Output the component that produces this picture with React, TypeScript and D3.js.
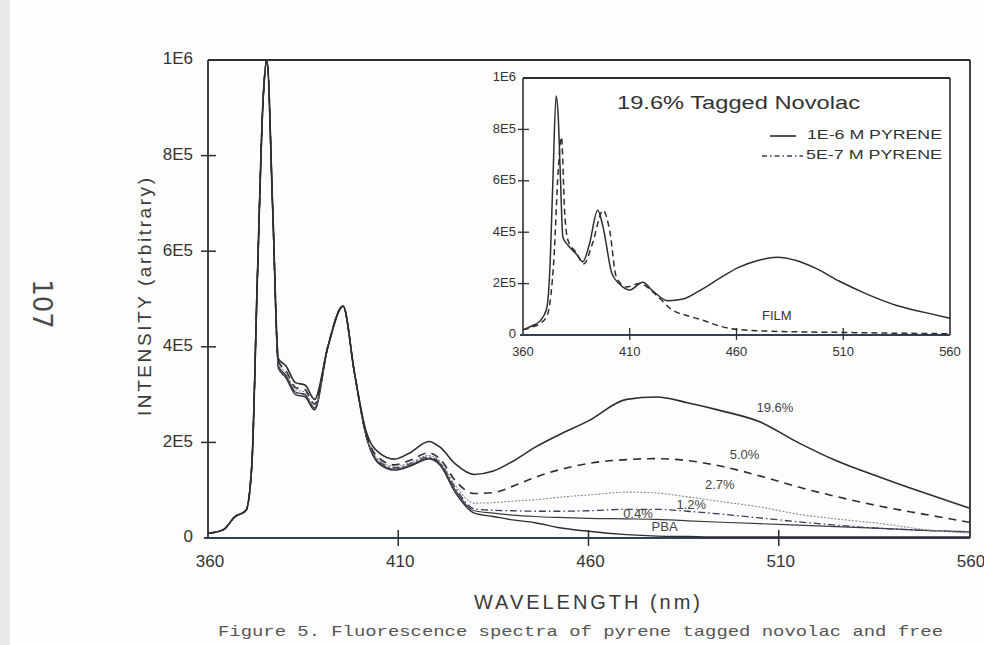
import * as d3 from "d3";

// main plot: wavelength grid (nm) and intensity as fraction of 1E6
const wavelengths = [360, 364, 367, 370, 371.5, 373, 374.5, 375.5, 377, 378.5, 380.5, 383, 385.5, 388, 391.5, 395.5, 398.5, 401.5, 405, 409, 413, 418, 421, 425, 430, 435, 440, 446, 452, 460, 470, 478, 486, 495, 505, 515, 525, 537, 548, 560];

const tagged196 = [0.010, 0.017, 0.044, 0.058, 0.15, 0.55, 0.92, 1.0, 0.69, 0.375, 0.36, 0.325, 0.32, 0.29, 0.40, 0.485, 0.345, 0.225, 0.178, 0.165, 0.178, 0.202, 0.19, 0.155, 0.133, 0.14, 0.16, 0.19, 0.215, 0.245, 0.29, 0.295, 0.283, 0.266, 0.243, 0.2, 0.162, 0.126, 0.095, 0.063];
const tagged50 = [0.010, 0.017, 0.044, 0.058, 0.15, 0.55, 0.92, 1.0, 0.69, 0.37, 0.35, 0.315, 0.31, 0.28, 0.40, 0.485, 0.345, 0.22, 0.167, 0.153, 0.162, 0.178, 0.165, 0.12, 0.093, 0.095, 0.108, 0.127, 0.142, 0.156, 0.164, 0.166, 0.162, 0.15, 0.13, 0.107, 0.087, 0.066, 0.05, 0.033];
const tagged27 = [0.010, 0.017, 0.044, 0.058, 0.15, 0.55, 0.92, 1.0, 0.69, 0.365, 0.345, 0.31, 0.305, 0.275, 0.40, 0.485, 0.345, 0.218, 0.163, 0.15, 0.157, 0.173, 0.16, 0.11, 0.073, 0.074, 0.077, 0.08, 0.085, 0.09, 0.096, 0.094, 0.086, 0.076, 0.065, 0.05, 0.04, 0.03, 0.018, 0.01];
const tagged12 = [0.010, 0.017, 0.044, 0.058, 0.15, 0.55, 0.92, 1.0, 0.69, 0.36, 0.34, 0.305, 0.30, 0.272, 0.40, 0.485, 0.345, 0.217, 0.16, 0.147, 0.155, 0.17, 0.157, 0.105, 0.061, 0.058, 0.057, 0.056, 0.056, 0.057, 0.06, 0.06, 0.056, 0.05, 0.042, 0.034, 0.027, 0.02, 0.016, 0.013];
const tagged04 = [0.010, 0.017, 0.044, 0.058, 0.15, 0.55, 0.92, 1.0, 0.69, 0.36, 0.34, 0.305, 0.30, 0.272, 0.40, 0.485, 0.345, 0.216, 0.157, 0.144, 0.152, 0.167, 0.155, 0.1, 0.057, 0.052, 0.048, 0.045, 0.043, 0.041, 0.04, 0.039, 0.036, 0.033, 0.03, 0.027, 0.024, 0.02, 0.016, 0.013];
const pba = [0.010, 0.017, 0.044, 0.058, 0.15, 0.55, 0.92, 1.0, 0.69, 0.355, 0.335, 0.30, 0.295, 0.268, 0.40, 0.485, 0.345, 0.215, 0.155, 0.142, 0.15, 0.165, 0.152, 0.095, 0.052, 0.045, 0.038, 0.032, 0.022, 0.014, 0.007, 0.004, 0.003, 0.002, 0.002, 0.002, 0.002, 0.002, 0.002, 0.002];

// inset: 19.6% tagged novolac
const insetWl = [360, 364, 368, 371, 372.5, 374, 375.5, 376.5, 377.5, 378.7, 381, 385, 388, 391, 395, 397.5, 401.6, 405, 410, 416, 421, 428, 435, 443, 452, 461, 470, 479, 488, 497, 508, 520, 535, 548, 560];
const pyrene1e6 = [0.02, 0.035, 0.055, 0.10, 0.24, 0.6, 0.93, 0.85, 0.62, 0.38, 0.35, 0.315, 0.285, 0.35, 0.485, 0.42, 0.24, 0.2, 0.175, 0.205, 0.17, 0.133, 0.14, 0.174, 0.22, 0.263, 0.29, 0.303, 0.29, 0.26, 0.21, 0.163, 0.115, 0.088, 0.065];
const insetDashWl = [360, 364, 368, 371, 373, 374.5, 376.5, 378, 379.5, 381, 385, 388.5, 392.5, 397.5, 400.6, 403.7, 408.4, 414.6, 422.5, 430, 437, 444, 452, 460, 475, 490, 510, 535, 560];
const pyrene5e7 = [0.02, 0.03, 0.045, 0.07, 0.15, 0.3, 0.64, 0.77, 0.48, 0.37, 0.32, 0.277, 0.355, 0.485, 0.406, 0.226, 0.187, 0.2, 0.155, 0.097, 0.075, 0.058, 0.035, 0.022, 0.015, 0.012, 0.01, 0.007, 0.005];

const xTicks = [360, 410, 460, 510, 560];
const yTicks = [0, 0.2, 0.4, 0.6, 0.8, 1.0];
const yTickLabels = ["0", "2E5", "4E5", "6E5", "8E5", "1E6"];

const seriesLabels = [
  { text: "19.6%", wl: 509, v: 0.27 },
  { text: "5.0%", wl: 501, v: 0.172 },
  { text: "2.7%", wl: 494.5, v: 0.109 },
  { text: "1.2%", wl: 487, v: 0.067 },
  { text: "0.4%", wl: 473, v: 0.05 },
  { text: "PBA", wl: 480, v: 0.021 },
];

const INK = "#2e2e2e";
const FONT = "'Liberation Sans', Arial, sans-serif";

export default function App() {
  const x = d3.scaleLinear().domain([360, 560]).range([208, 969]);
  const y = d3.scaleLinear().domain([0, 1]).range([538, 60]);
  const ix = d3.scaleLinear().domain([360, 560]).range([523, 950]);
  const iy = d3.scaleLinear().domain([0, 1]).range([335, 78]);

  const line = d3.line<number>()
    .x((_, i) => x(wavelengths[i]))
    .y(d => y(d))
    .curve(d3.curveMonotoneX);

  const insetLine = (wl: number[]) => d3.line<number>()
    .x((_, i) => ix(wl[i]))
    .y(d => iy(d))
    .curve(d3.curveMonotoneX);

  const series = [
    { values: pba, stroke: INK, width: 1.4, dash: null },
    { values: tagged04, stroke: "#3a3a44", width: 1.2, dash: null },
    { values: tagged12, stroke: "#35405a", width: 1.3, dash: "7 3 1.5 3" },
    { values: tagged27, stroke: "#8a8a8a", width: 1.1, dash: "2 1.5" },
    { values: tagged50, stroke: INK, width: 1.6, dash: "8 6" },
    { values: tagged196, stroke: INK, width: 1.6, dash: null },
  ];

  return (
    <svg width={984} height={645} style={{ position: "absolute", left: 0, top: 0, background: "#fff" }}>
      <rect x={0} y={0} width={984} height={645} fill="#fdfdfd" />
      <rect x={0} y={0} width={10} height={645} fill="#e9e9e9" />

      {/* handwritten page number */}
      <text transform="translate(40,304) rotate(90)" textAnchor="middle" dominantBaseline="middle"
        fontFamily="'DejaVu Sans', sans-serif" fontSize={26} fill="#4a4a4a">107</text>

      {/* main frame */}
      <line x1={208} x2={970} y1={60} y2={60} stroke={INK} strokeWidth={2} />
      <line x1={970} x2={970} y1={60} y2={538} stroke={INK} strokeWidth={1.8} />
      <line x1={208} x2={208} y1={60} y2={538} stroke={INK} strokeWidth={1.8} />
      <line x1={204} x2={970} y1={538} y2={538} stroke="#34405a" strokeWidth={2} />

      {yTicks.map((t, i) => (
        <g key={`yt${i}`}>
          {i > 0 && i < 5 && <line x1={201} x2={216} y1={y(t)} y2={y(t)} stroke={INK} strokeWidth={1.5} />}
          <text x={193} y={y(t)} textAnchor="end" dominantBaseline="middle" fontFamily={FONT}
            fontSize={17} fill="#333">{yTickLabels[i]}</text>
        </g>
      ))}
      {xTicks.map((t, i) => (
        <g key={`xt${i}`}>
          {i > 0 && i < 4 && <line x1={x(t)} x2={x(t)} y1={530} y2={546} stroke={INK} strokeWidth={1.5} />}
          <text x={x(t) + 2} y={563} textAnchor="middle" dominantBaseline="middle" fontFamily={FONT}
            fontSize={17} fill="#333">{t}</text>
        </g>
      ))}

      <text transform="translate(146,297) rotate(-90)" textAnchor="middle" dominantBaseline="middle"
        fontFamily={FONT} fontSize={19} fill="#3a3a3a" textLength={238} lengthAdjust="spacing">INTENSITY (arbitrary)</text>
      <text x={587} y={604} textAnchor="middle" dominantBaseline="middle" fontFamily={FONT}
        fontSize={20} fill="#3a3a3a" textLength={226} lengthAdjust="spacing">WAVELENGTH (nm)</text>

      {series.map((s, i) => (
        <path key={`s${i}`} d={line(s.values) ?? ""} fill="none" stroke={s.stroke}
          strokeWidth={s.width} strokeDasharray={s.dash ?? undefined} />
      ))}

      {seriesLabels.map((l, i) => (
        <text key={`l${i}`} x={x(l.wl)} y={y(l.v)} textAnchor="middle" dominantBaseline="middle"
          fontFamily={FONT} fontSize={13} fill="#444">{l.text}</text>
      ))}

      {/* inset */}
      <rect x={523} y={78} width={427} height={257} fill="#fff" />
      <line x1={523} x2={950} y1={78} y2={78} stroke={INK} strokeWidth={1.8} />
      <line x1={950} x2={950} y1={78} y2={335} stroke={INK} strokeWidth={1.6} />
      <line x1={523} x2={523} y1={78} y2={335} stroke={INK} strokeWidth={1.6} />
      <line x1={520} x2={950} y1={335} y2={335} stroke="#34405a" strokeWidth={1.8} />
      {yTicks.map((t, i) => (
        <g key={`iyt${i}`}>
          {i > 0 && i < 5 && <line x1={518} x2={529} y1={iy(t)} y2={iy(t)} stroke={INK} strokeWidth={1.3} />}
          <text x={516} y={iy(t)} textAnchor="end" dominantBaseline="middle" fontFamily={FONT}
            fontSize={13} fill="#333">{yTickLabels[i]}</text>
        </g>
      ))}
      {xTicks.map((t, i) => (
        <g key={`ixt${i}`}>
          {i > 0 && i < 4 && <line x1={ix(t)} x2={ix(t)} y1={328} y2={340} stroke={INK} strokeWidth={1.3} />}
          <text x={ix(t)} y={353} textAnchor="middle" dominantBaseline="middle" fontFamily={FONT}
            fontSize={13} fill="#333">{t}</text>
        </g>
      ))}
      <path d={insetLine(insetDashWl)(pyrene5e7) ?? ""} fill="none" stroke={INK} strokeWidth={1.5} strokeDasharray="6 4" />
      <path d={insetLine(insetWl)(pyrene1e6) ?? ""} fill="none" stroke={INK} strokeWidth={1.5} />

      <text x={617} y={104} dominantBaseline="middle" fontFamily={FONT} fontSize={18} fill="#333"
        textLength={243} lengthAdjust="spacingAndGlyphs">19.6% Tagged Novolac</text>
      <line x1={770} x2={796} y1={136} y2={136} stroke={INK} strokeWidth={1.6} />
      <text x={807} y={136} dominantBaseline="middle" fontFamily={FONT} fontSize={13} fill="#333"
        textLength={135} lengthAdjust="spacingAndGlyphs">1E-6 M PYRENE</text>
      <line x1={762} x2={803} y1={156} y2={156} stroke="#35405a" strokeWidth={1.6} strokeDasharray="5 3 1.5 3" />
      <text x={806} y={156} dominantBaseline="middle" fontFamily={FONT} fontSize={13} fill="#333"
        textLength={136} lengthAdjust="spacingAndGlyphs">5E-7 M PYRENE</text>
      <text x={762} y={317} dominantBaseline="middle" fontFamily={FONT} fontSize={13} fill="#333">FILM</text>

      <text x={218} y={632} dominantBaseline="middle" fontFamily="'Liberation Mono', monospace" fontSize={15}
        fill="#555" textLength={725} lengthAdjust="spacingAndGlyphs">Figure 5.  Fluorescence spectra of pyrene tagged novolac and free</text>
    </svg>
  );
}
